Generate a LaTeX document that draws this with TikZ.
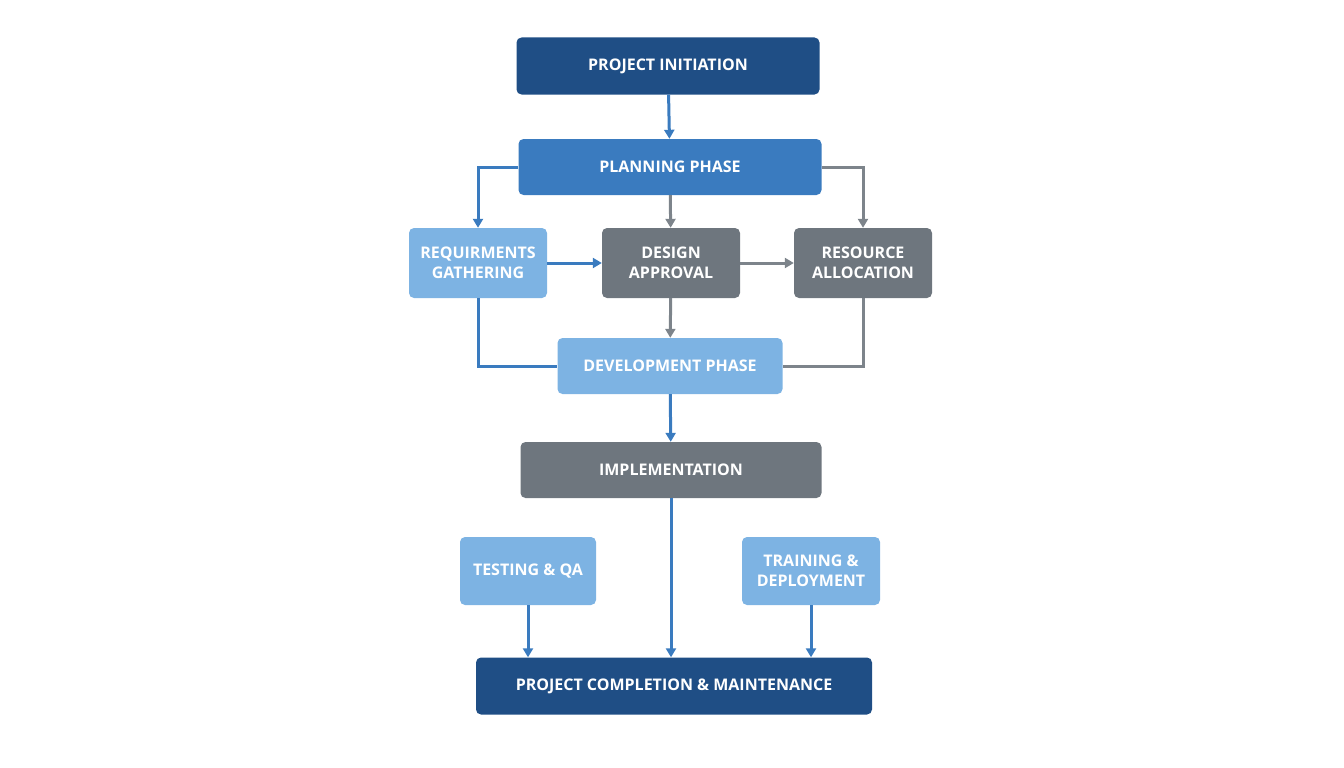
\documentclass[tikz,border=0pt]{standalone}
\usepackage{fontspec}
\setmainfont{Open Sans}
\usetikzlibrary{arrows.meta,positioning}
\definecolor{darkblue}{HTML}{1F4E85}
\definecolor{midblue}{HTML}{3A7BBF}
\definecolor{lightblue}{HTML}{7DB3E3}
\definecolor{slate}{HTML}{6E767E}
\tikzset{
    box/.style={rounded corners=5pt, text=white, align=center,
        font=\fontsize{16}{20}\selectfont\bfseries, inner sep=0pt},
    dark/.style={box, fill=darkblue},
    mid/.style={box, fill=midblue},
    light/.style={box, fill=lightblue},
    grey/.style={box, fill=slate},
    bl/.style={draw=midblue, line width=3pt},
    gr/.style={draw=slate!90, line width=3pt},
    tip/.style={-{Triangle[length=9pt,width=10pt]}}
}
\begin{document}
\begin{tikzpicture}[x=1pt,y=-1pt]
\useasboundingbox (0,0) rectangle (1344,768);
\node[dark, minimum width=303pt, minimum height=57pt] (init) at (668,66) {PROJECT INITIATION};
\node[mid, minimum width=303pt, minimum height=56pt] (plan) at (670,167) {PLANNING PHASE};
\node[light, minimum width=138pt, minimum height=70pt] (req) at (478,263) {REQUIRMENTS\\GATHERING};
\node[grey, minimum width=138pt, minimum height=70pt] (design) at (671,263) {DESIGN\\APPROVAL};
\node[grey, minimum width=138pt, minimum height=70pt] (res) at (863,263) {RESOURCE\\ALLOCATION};
\node[light, minimum width=225pt, minimum height=56pt] (dev) at (670,366) {DEVELOPMENT PHASE};
\node[grey, minimum width=301pt, minimum height=56pt] (impl) at (671,470) {IMPLEMENTATION};
\node[light, minimum width=136pt, minimum height=68pt] (test) at (528,571) {TESTING \& QA};
\node[light, minimum width=138pt, minimum height=68pt] (train) at (811,571) {TRAINING \&\\DEPLOYMENT};
\node[dark, minimum width=396pt, minimum height=57pt] (done) at (674,686) {PROJECT COMPLETION \& MAINTENANCE};
% top part
\draw[bl,tip] (init) -- (plan);
\draw[bl,tip] (plan.west) -| (req.north);
\draw[gr,tip] (plan.east) -| (res.north);
\draw[gr,tip] (plan) -- (design);
\draw[bl,tip] (req) -- (design);
\draw[gr,tip] (design) -- (res);
% joins into development
\draw[bl] (req.south) |- (dev.west);
\draw[gr] (res.south) |- (dev.east);
\draw[gr,tip] (design) -- (dev);
\draw[bl,tip] (dev) -- (impl);
% bottom part
\draw[bl,tip] (impl) -- (impl |- done.north);
\draw[bl,tip] (test) -- (test |- done.north);
\draw[bl,tip] (train) -- (train |- done.north);
\end{tikzpicture}
\end{document}
